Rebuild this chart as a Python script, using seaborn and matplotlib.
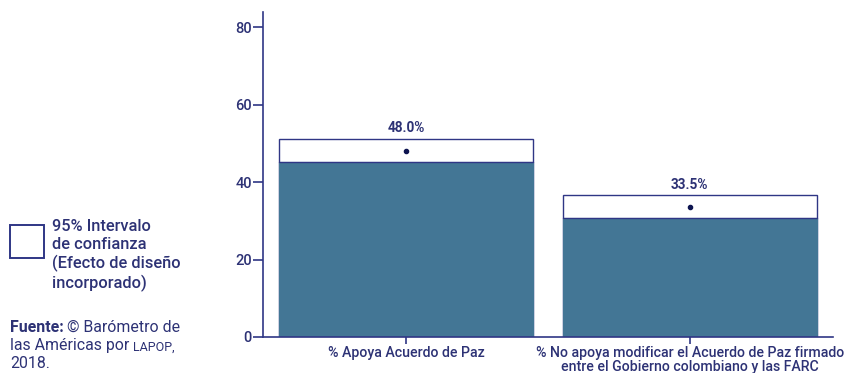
import matplotlib
matplotlib.use("Agg")
import matplotlib.pyplot as plt
import matplotlib.patches as mpatches
import seaborn as sns
import pandas as pd

# Survey estimates with 95% confidence bounds
categories = [
    "% Apoya Acuerdo de Paz",
    "% No apoya modificar el Acuerdo de Paz firmado\nentre el Gobierno colombiano y las FARC",
]
means = [48.0, 33.5]
ci_low = [45.2, 30.7]
ci_high = [51.1, 36.6]
value_labels = ["48.0%", "33.5%"]
y_ticks = [0, 20, 40, 60, 80]

navy = "#2f3685"
bar_blue = "#437695"
text_col = "#2d3275"

sns.set_theme(style="white")
plt.rcParams["font.family"] = ["Roboto", "DejaVu Sans"]

df = pd.DataFrame({"cat": categories, "mean": means, "low": ci_low, "high": ci_high})

fig = plt.figure(figsize=(8.51, 3.73), dpi=100)
ax = fig.add_axes([263 / 851, 36 / 373, 570 / 851, 325 / 373])

# Confidence interval box (full height to the upper bound, white)
sns.barplot(data=df, x="cat", y="high", ax=ax, color="white", width=0.895,
            edgecolor=navy, linewidth=1.0, saturation=1)
# Solid bar up to the lower bound
sns.barplot(data=df, x="cat", y="low", ax=ax, color=bar_blue, width=0.895,
            edgecolor=bar_blue, linewidth=0.8, saturation=1)
# Dark rule along the top of the solid bar
for i, lo in enumerate(ci_low):
    ax.plot([i - 0.4475, i + 0.4475], [lo, lo], color=navy, lw=1.0, zorder=4)

# Point estimate
ax.scatter(range(len(means)), means, s=9, color="#0d1450", zorder=5)

for i, (hi, lab) in enumerate(zip(ci_high, value_labels)):
    ax.text(i, hi + 1.0, lab, ha="center", va="bottom", fontsize=9.8,
            fontweight="bold", color=text_col)

ax.set_xlim(-0.504, 1.505)
ax.set_ylim(0, 84)
ax.set_yticks(y_ticks)
ax.set_xlabel("")
ax.set_ylabel("")
ax.tick_params(axis="y", which="both", length=7, width=1.2, color=navy,
               labelcolor=text_col, labelsize=10.5, pad=1, left=True)
ax.tick_params(axis="x", which="both", length=5, width=1.2, color=navy,
               labelcolor=text_col, labelsize=10.2, pad=1.5, bottom=True)
for lab in ax.get_yticklabels():
    lab.set_fontweight("medium")
ax.set_xticks(range(len(categories)))
ax.set_xticklabels(categories, linespacing=0.98, fontweight="medium")

for side in ["top", "right"]:
    ax.spines[side].set_visible(False)
for side in ["left", "bottom"]:
    ax.spines[side].set_color(navy)
    ax.spines[side].set_linewidth(1.2)

# Legend key for the confidence interval box
fig.patches.append(mpatches.Rectangle((10 / 851, 1 - 258 / 373), 34 / 851, 33 / 373,
                                      transform=fig.transFigure, facecolor="white",
                                      edgecolor=navy, linewidth=1.4))
fig.text(52 / 851, 1 - 219 / 373,
         "95% Intervalo\nde confianza\n(Efecto de diseño\nincorporado)",
         ha="left", va="top", fontsize=11.8, color=text_col, linespacing=1.22,
         fontweight="medium")

fs = 11.4
fig.text(10 / 851, 1 - 320 / 373, "Fuente:", ha="left", va="top", fontsize=fs,
         fontweight="bold", color=text_col)
fig.text(67 / 851, 1 - 320 / 373, "© Barómetro de", ha="left", va="top",
         fontsize=fs, color=text_col)
fig.text(10 / 851, 1 - 338 / 373, "las Américas por", ha="left", va="top",
         fontsize=fs, color=text_col)
fig.text(133 / 851, 1 - 341 / 373, "LAPOP,", ha="left", va="top",
         fontsize=9, color=text_col)
fig.text(10 / 851, 1 - 356 / 373, "2018.", ha="left", va="top",
         fontsize=fs, color=text_col)

fig.savefig("out.png", dpi=100, facecolor="white")
